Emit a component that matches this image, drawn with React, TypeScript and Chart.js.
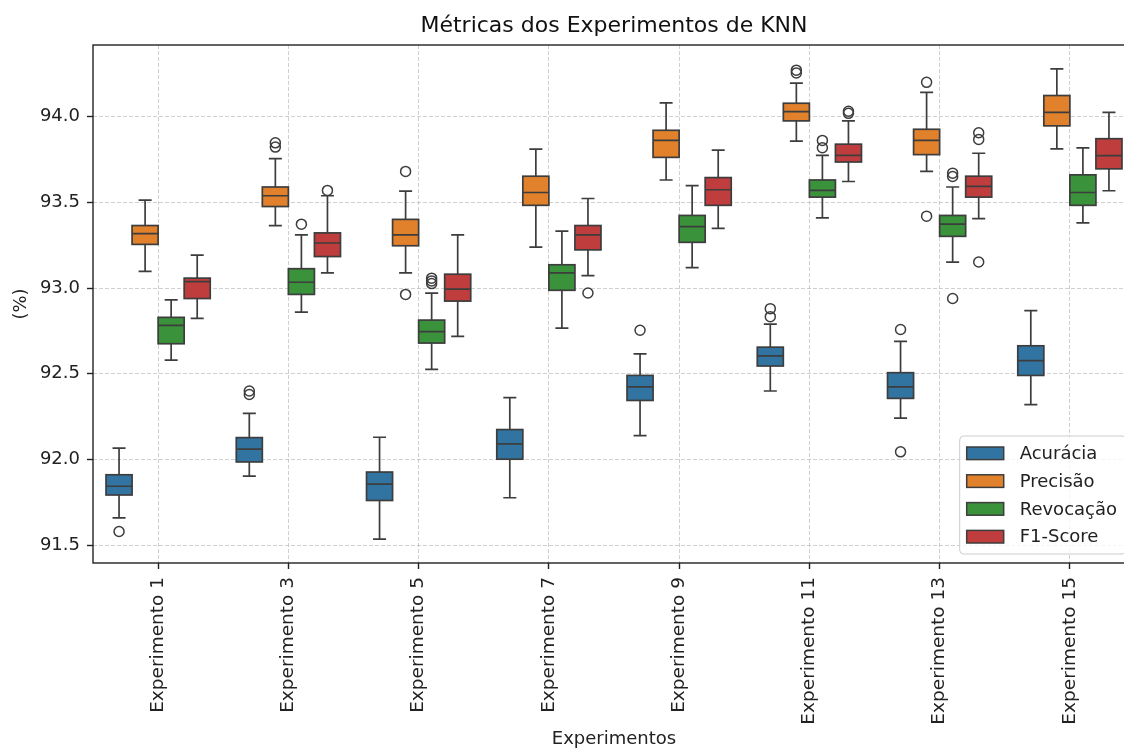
import React, { useEffect, useRef } from 'react';
import { Chart, registerables } from 'chart.js';

Chart.register(...registerables);

const experiments = [
  'Experimento 1', 'Experimento 3', 'Experimento 5', 'Experimento 7',
  'Experimento 9', 'Experimento 11', 'Experimento 13', 'Experimento 15',
];
const metricNames = ['Acurácia', 'Precisão', 'Revocação', 'F1-Score'];
const metricColors = ['#3274a1', '#e1812c', '#3a923a', '#c03d3e'];
const yTicks = [91.5, 92.0, 92.5, 93.0, 93.5, 94.0];

// Acurácia
const acuraciaLow = [91.658, 91.902, 91.534, 91.776, 92.139, 92.399, 92.241, 92.320];
const acuraciaQ1 = [91.792, 91.985, 91.760, 92.001, 92.344, 92.545, 92.356, 92.490];
const acuraciaMed = [91.843, 92.060, 91.855, 92.091, 92.423, 92.604, 92.423, 92.577];
const acuraciaQ3 = [91.910, 92.127, 91.926, 92.174, 92.490, 92.655, 92.506, 92.663];
const acuraciaHigh = [92.066, 92.269, 92.129, 92.360, 92.616, 92.789, 92.689, 92.868];
const acuraciaOut = [[91.579], [92.399, 92.379], [], [], [92.754], [92.880, 92.833], [92.758, 92.044], []];

// Precisão
const precisaoLow = [93.097, 93.365, 93.089, 93.239, 93.631, 93.858, 93.681, 93.813];
const precisaoQ1 = [93.255, 93.476, 93.247, 93.483, 93.763, 93.976, 93.779, 93.947];
const precisaoMed = [93.318, 93.539, 93.310, 93.558, 93.862, 94.030, 93.862, 94.026];
const precisaoQ3 = [93.365, 93.590, 93.401, 93.653, 93.921, 94.079, 93.927, 94.124];
const precisaoHigh = [93.513, 93.756, 93.566, 93.811, 94.081, 94.197, 94.142, 94.280];
const precisaoOut = [[], [93.848, 93.823], [93.681, 92.963], [], [], [94.272, 94.256], [94.201, 93.420], []];

// Revocação
const revocacaoLow = [92.579, 92.860, 92.525, 92.766, 93.119, 93.410, 93.152, 93.381];
const revocacaoQ1 = [92.675, 92.963, 92.679, 92.987, 93.267, 93.531, 93.302, 93.483];
const revocacaoMed = [92.782, 93.034, 92.746, 93.089, 93.359, 93.570, 93.373, 93.558];
const revocacaoQ3 = [92.829, 93.113, 92.813, 93.136, 93.424, 93.631, 93.424, 93.661];
const revocacaoHigh = [92.931, 93.310, 92.971, 93.332, 93.598, 93.775, 93.590, 93.819];
const revocacaoOut = [[], [93.373], [93.058, 93.042, 93.026], [], [], [93.862, 93.819], [93.671, 93.651, 92.939], []];

// F1-Score
const f1Low = [92.823, 93.089, 92.718, 93.073, 93.349, 93.622, 93.405, 93.568];
const f1Q1 = [92.939, 93.184, 92.924, 93.223, 93.483, 93.736, 93.531, 93.696];
const f1Med = [93.038, 93.263, 92.994, 93.310, 93.574, 93.775, 93.594, 93.773];
const f1Q3 = [93.058, 93.322, 93.081, 93.365, 93.645, 93.840, 93.653, 93.872];
const f1High = [93.192, 93.539, 93.310, 93.523, 93.805, 93.976, 93.787, 94.026];
const f1Out = [[], [93.570], [], [92.971], [], [94.032, 94.020], [93.907, 93.868, 93.152], []];

const stats = [
  { low: acuraciaLow, q1: acuraciaQ1, med: acuraciaMed, q3: acuraciaQ3, high: acuraciaHigh, out: acuraciaOut },
  { low: precisaoLow, q1: precisaoQ1, med: precisaoMed, q3: precisaoQ3, high: precisaoHigh, out: precisaoOut },
  { low: revocacaoLow, q1: revocacaoQ1, med: revocacaoMed, q3: revocacaoQ3, high: revocacaoHigh, out: revocacaoOut },
  { low: f1Low, q1: f1Q1, med: f1Med, q3: f1Q3, high: f1High, out: f1Out },
];

const FONT = "'DejaVu Sans', sans-serif";
const LINE = '#3d3d3d';
const TEXT = '#222222';
const GRID = 'rgba(176,176,176,0.6)';

const boxPlugin = {
  id: 'boxPlugin',
  afterDatasetsDraw(chart: any) {
    const ctx = chart.ctx;
    const y = chart.scales.y;
    const area = chart.chartArea;
    ctx.save();
    ctx.lineCap = 'butt';
    stats.forEach((m, d) => {
      const meta = chart.getDatasetMeta(d);
      meta.data.forEach((bar: any, i: number) => {
        const x = bar.x;
        const w = bar.width;
        const yLow = y.getPixelForValue(m.low[i]);
        const yQ1 = y.getPixelForValue(m.q1[i]);
        const yMed = y.getPixelForValue(m.med[i]);
        const yQ3 = y.getPixelForValue(m.q3[i]);
        const yHigh = y.getPixelForValue(m.high[i]);
        ctx.strokeStyle = LINE;
        ctx.lineWidth = 1.7;
        ctx.beginPath();
        ctx.moveTo(x, yQ3); ctx.lineTo(x, yHigh);
        ctx.moveTo(x - w / 4, yHigh); ctx.lineTo(x + w / 4, yHigh);
        ctx.moveTo(x, yQ1); ctx.lineTo(x, yLow);
        ctx.moveTo(x - w / 4, yLow); ctx.lineTo(x + w / 4, yLow);
        ctx.moveTo(x - w / 2, yMed); ctx.lineTo(x + w / 2, yMed);
        ctx.stroke();
        ctx.strokeRect(x - w / 2, yQ3, w, yQ1 - yQ3);
        ctx.lineWidth = 1.5;
        m.out[i].forEach((v: number) => {
          ctx.beginPath();
          ctx.arc(x, y.getPixelForValue(v), 5, 0, Math.PI * 2);
          ctx.stroke();
        });
      });
    });
    // axes frame
    ctx.strokeStyle = TEXT;
    ctx.lineWidth = 1.4;
    ctx.strokeRect(area.left, area.top, area.right - area.left, area.bottom - area.top);

    // legend
    ctx.font = `18px ${FONT}`;
    const labels = chart.data.datasets.map((ds: any) => ds.label);
    const maxW = Math.max(...labels.map((l: string) => ctx.measureText(l).width));
    const fw = 7 + 37 + 15 + maxW + 10;
    const fh = 118;
    const fr = area.right - 9;
    const fb = area.bottom - 9;
    const fl = fr - fw;
    const ft = fb - fh;
    ctx.beginPath();
    if (ctx.roundRect) ctx.roundRect(fl, ft, fw, fh, 4); else ctx.rect(fl, ft, fw, fh);
    ctx.fillStyle = 'rgba(255,255,255,0.8)';
    ctx.fill();
    ctx.strokeStyle = '#cccccc';
    ctx.lineWidth = 1;
    ctx.stroke();
    chart.data.datasets.forEach((ds: any, k: number) => {
      const cy = ft + 17.3 + k * 27.8;
      ctx.fillStyle = ds.backgroundColor;
      ctx.fillRect(fl + 7, cy - 6.3, 37, 12.6);
      ctx.strokeStyle = LINE;
      ctx.lineWidth = 1.5;
      ctx.strokeRect(fl + 7, cy - 6.3, 37, 12.6);
      ctx.fillStyle = TEXT;
      ctx.textAlign = 'left';
      ctx.textBaseline = 'middle';
      ctx.fillText(ds.label, fl + 60, cy + 1);
    });
    ctx.restore();
  },
};

export default function App() {
  const ref = useRef<HTMLCanvasElement | null>(null);
  useEffect(() => {
    if (!ref.current) return;
    const chart = new Chart(ref.current, {
      type: 'bar',
      data: {
        labels: experiments,
        datasets: stats.map((m, d) => ({
          label: metricNames[d],
          data: m.q1.map((v, i) => [v, m.q3[i]]),
          backgroundColor: metricColors[d],
          borderWidth: 0,
          categoryPercentage: 0.8,
          barPercentage: 1.0,
        })),
      },
      options: {
        animation: false,
        responsive: false,
        devicePixelRatio: 1,
        layout: { padding: { top: 0, right: 25, bottom: 0, left: 0 } },
        plugins: {
          legend: { display: false },
          tooltip: { enabled: false },
          title: {
            display: true,
            text: 'Métricas dos Experimentos de KNN',
            fullSize: false,
            color: '#111',
            font: { family: FONT, size: 22, weight: 'normal' },
            padding: { top: 13, bottom: 5.6 },
          },
        },
        scales: {
          x: {
            type: 'category',
            offset: true,
            grid: { offset: false, color: GRID, lineWidth: 1, tickLength: 6, tickColor: TEXT, tickWidth: 1.4, drawTicks: true },
            border: { display: false, dash: [4, 2] },
            ticks: { font: { family: FONT, size: 18.5 }, color: TEXT, maxRotation: 90, minRotation: 90, autoSkip: false, padding: 8 },
            title: { display: true, text: 'Experimentos', font: { family: FONT, size: 18 }, color: TEXT, padding: { top: 0, bottom: 3 } },
            afterFit: (s: any) => { s.height = 190; },
          },
          y: {
            type: 'linear',
            min: 91.395,
            max: 94.419,
            grid: { color: GRID, lineWidth: 1, tickLength: 6, tickColor: TEXT, tickWidth: 1.4, drawTicks: true },
            border: { display: false, dash: [4, 2] },
            ticks: { font: { family: FONT, size: 18 }, color: TEXT, padding: 7, callback: (v: any) => Number(v).toFixed(1) },
            afterBuildTicks: (s: any) => { s.ticks = yTicks.map((v) => ({ value: v })); },
            title: { display: true, text: '(%)', font: { family: FONT, size: 18 }, color: TEXT, padding: { top: 11, bottom: 0 } },
            afterFit: (s: any) => { s.width = 93; },
          },
        },
      } as any,
      plugins: [boxPlugin],
    });
    return () => chart.destroy();
  }, []);
  return (
    <div style={{ position: 'fixed', left: 0, top: 0, width: 1124, height: 753, overflow: 'hidden', background: '#fff' }}>
      <canvas ref={ref} width={1160} height={753} style={{ display: 'block', width: 1160, height: 753 }} />
    </div>
  );
}
